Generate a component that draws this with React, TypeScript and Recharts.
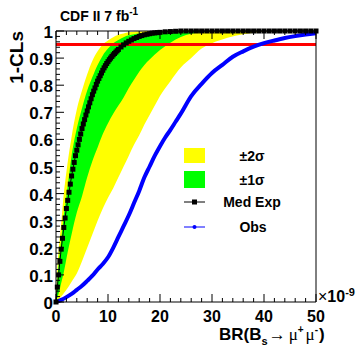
import React from "react";
import {
  ComposedChart,
  Area,
  Line,
  Scatter,
  XAxis,
  YAxis,
  ReferenceLine,
  Legend,
} from "recharts";

const FONT = '"Liberation Sans", Arial, Helvetica, sans-serif';
const SERIF = '"Liberation Serif", "Times New Roman", serif';

// expected bands (x in units of 1e-9)
const bandX = [0, 0.25, 0.5, 1, 1.5, 2, 3, 4, 5, 6, 7, 8, 9, 10, 11, 12, 13, 14, 15, 16, 17, 18, 19, 20, 22, 24, 26, 28, 30, 33, 36, 40, 45, 50];
const yellowHi = [0, 0.12, 0.19, 0.29, 0.4, 0.48, 0.61, 0.71, 0.78, 0.84, 0.89, 0.925, 0.95, 0.965, 0.977, 0.986, 0.991, 0.995, 0.997, 0.998, 0.999, 1, 1, 1, 1, 1, 1, 1, 1, 1, 1, 1, 1, 1];
const greenHi = [0, 0.08, 0.14, 0.23, 0.32, 0.39, 0.54, 0.64, 0.715, 0.78, 0.83, 0.875, 0.91, 0.935, 0.955, 0.967, 0.977, 0.984, 0.988, 0.991, 0.993, 0.995, 0.997, 0.998, 1, 1, 1, 1, 1, 1, 1, 1, 1, 1];
const greenLo = [0, 0.015, 0.03, 0.07, 0.11, 0.16, 0.25, 0.33, 0.39, 0.46, 0.52, 0.57, 0.62, 0.66, 0.695, 0.725, 0.755, 0.79, 0.82, 0.85, 0.875, 0.895, 0.913, 0.93, 0.957, 0.978, 0.99, 0.995, 0.998, 1, 1, 1, 1, 1];
const yellowLo = [0, 0.005, 0.01, 0.02, 0.032, 0.045, 0.075, 0.105, 0.15, 0.2, 0.25, 0.3, 0.345, 0.385, 0.42, 0.46, 0.5, 0.54, 0.58, 0.615, 0.655, 0.69, 0.725, 0.76, 0.815, 0.865, 0.9, 0.935, 0.955, 0.975, 0.988, 0.997, 1, 1];

// median expected (black squares)
const medX = [
  0, 0.25, 0.5, 0.75, 1, 1.25, 1.5, 1.75, 2, 2.25, 2.5, 2.75, 3, 3.25, 3.5, 3.75, 4, 4.25, 4.5, 4.75, 5,
  5.25, 5.5, 5.75, 6, 6.25, 6.5, 6.75, 7, 7.25, 7.5, 7.75, 8, 8.25, 8.5, 8.75, 9, 9.25, 9.5, 9.75, 10,
  10.25, 10.5, 10.75, 11, 11.25, 11.5, 11.75, 12, 12.5, 13, 13.5, 14, 14.5, 15, 15.5, 16, 16.5, 17, 17.5,
  18, 18.5, 19, 19.5, 20, 21, 22, 23, 24, 25, 26, 27, 28, 29, 30, 31, 32, 33, 34, 35, 36, 37, 38, 39, 40,
  41, 42, 43, 44, 45, 46, 47, 48, 49, 50,
];
const medY = [
  0, 0.055, 0.1, 0.15, 0.195, 0.235, 0.275, 0.31, 0.345, 0.375, 0.405, 0.435, 0.465, 0.49, 0.515, 0.54, 0.56, 0.58, 0.6, 0.62, 0.64,
  0.657, 0.673, 0.69, 0.705, 0.72, 0.735, 0.75, 0.765, 0.778, 0.79, 0.803, 0.815, 0.825, 0.835, 0.845, 0.855, 0.864, 0.872, 0.88, 0.887,
  0.894, 0.9, 0.906, 0.912, 0.917, 0.922, 0.927, 0.932, 0.941, 0.949, 0.956, 0.962, 0.967, 0.972, 0.976, 0.98, 0.983, 0.986, 0.988,
  0.99, 0.992, 0.993, 0.994, 0.995, 0.997, 0.998, 0.999, 1, 1, 1, 1, 1, 1, 1, 1, 1, 1, 1, 1, 1, 1, 1, 1, 1,
  1, 1, 1, 1, 1, 1, 1, 1, 1, 1,
];

// observed (blue)
const obsX = [0, 1, 2, 3, 4, 5, 6, 7, 8, 9, 10, 11, 12, 13, 14, 15, 16, 17, 18, 19, 20, 21, 22, 23, 24, 26, 28, 30, 32, 34, 36, 38, 40, 42, 44, 46, 48, 50];
const obsY = [0, 0.008, 0.018, 0.03, 0.045, 0.06, 0.078, 0.097, 0.12, 0.14, 0.165, 0.2, 0.24, 0.28, 0.32, 0.365, 0.41, 0.46, 0.5, 0.54, 0.575, 0.607, 0.635, 0.665, 0.695, 0.76, 0.805, 0.845, 0.875, 0.905, 0.925, 0.942, 0.955, 0.965, 0.974, 0.981, 0.987, 0.992];

const CL_LINE = 0.95;
const xLabels = [0, 10, 20, 30, 40, 50];
const yLabels = [0, 0.1, 0.2, 0.3, 0.4, 0.5, 0.6, 0.7, 0.8, 0.9, 1];

const bands = bandX.map((x, i) => ({
  x,
  yellow: [yellowLo[i], yellowHi[i]],
  green: [greenLo[i], greenHi[i]],
}));
const median = medX.map((x, i) => ({ x, y: medY[i] }));
const observed = obsX.map((x, i) => ({ x, y: obsY[i] }));

// minor ticks every 2 on x, every 0.02 on y
const xTicks = Array.from({ length: 26 }, (_, i) => i * 2);
const yTicks = Array.from({ length: 51 }, (_, i) => Math.round(i * 2) / 100);

const isMajorX = (v: number) => Math.round(v) % 10 === 0;
const isMajorY = (v: number) => Math.round(v * 100) % 10 === 0;

const BottomTick = ({ x, y, payload }: any) => {
  const v = Math.round(payload.value);
  const major = isMajorX(v);
  const label = xLabels.find((l) => l === v);
  return (
    <g>
      <line x1={x} y1={y} x2={x} y2={y - (major ? 8 : 4)} stroke="#000" />
      {major && label !== undefined && (
        <text x={x} y={y + 20} textAnchor="middle" fontFamily={FONT} fontWeight="bold" fontSize={16} fill="#000">
          {String(label)}
        </text>
      )}
    </g>
  );
};

const TopTick = ({ x, y, payload }: any) => (
  <line x1={x} y1={y} x2={x} y2={y + (isMajorX(payload.value) ? 8 : 4)} stroke="#000" />
);

const LeftTick = ({ x, y, payload }: any) => {
  const v = payload.value;
  const major = isMajorY(v);
  const label = yLabels.find((l) => Math.abs(l - v) < 1e-6);
  return (
    <g>
      <line x1={x} y1={y} x2={x + (major ? 8 : 4)} y2={y} stroke="#000" />
      {major && label !== undefined && (
        <text x={x - 3} y={y + 7} textAnchor="end" fontFamily={FONT} fontWeight="bold" fontSize={17} fill="#000">
          {label === 0 || label === 1 ? String(label) : label.toFixed(1)}
        </text>
      )}
    </g>
  );
};

const RightTick = ({ x, y, payload }: any) => (
  <line x1={x} y1={y} x2={x - (isMajorY(payload.value) ? 8 : 4)} y2={y} stroke="#000" />
);

const SquareDot = (p: any) => <rect x={p.cx - 2.5} y={p.cy - 2.5} width={5} height={5} fill="#000" />;

const LegendBox = () => (
  <svg width={110} height={95} style={{ display: "block" }}>
    <g fontFamily={FONT} fontWeight="bold" fontSize={14} fill="#000" textAnchor="middle">
      <rect x={0} y={2} width={21} height={15} fill="#ffff00" />
      <text x={68} y={15}>±2σ</text>
      <rect x={0} y={25} width={21} height={17} fill="#00ff00" />
      <text x={68} y={39}>±1σ</text>
      <line x1={0} x2={21} y1={56} y2={56} stroke="#000" />
      <rect x={8} y={53.5} width={5} height={5} fill="#000" />
      <text x={68} y={61}>Med Exp</text>
      <line x1={0} x2={21} y1={81} y2={81} stroke="#0000ff" />
      <circle cx={10.5} cy={81} r={2} fill="#0000ff" />
      <text x={69} y={86}>Obs</text>
    </g>
  </svg>
);

export default function App() {
  return (
    <div style={{ position: "absolute", left: 0, top: 0, width: 363, height: 346, background: "#fff" }}>
      <ComposedChart
        width={363}
        height={346}
        data={bands}
        margin={{ top: 30, right: 46, bottom: 43, left: 55 }}
      >
        <XAxis
          dataKey="x"
          type="number"
          domain={[0, 50]}
          ticks={xTicks}
          interval={0}
          height={1}
          tickSize={0}
          tickMargin={0}
          stroke="#000"
          tick={<BottomTick />}
        />
        <XAxis
          xAxisId="top"
          orientation="top"
          dataKey="x"
          type="number"
          domain={[0, 50]}
          ticks={xTicks}
          interval={0}
          height={1}
          tickSize={0}
          tickMargin={0}
          stroke="#000"
          tick={<TopTick />}
        />
        <YAxis
          type="number"
          domain={[0, 1]}
          ticks={yTicks}
          interval={0}
          width={1}
          tickSize={0}
          tickMargin={0}
          stroke="#000"
          tick={<LeftTick />}
        />
        <YAxis
          yAxisId="right"
          orientation="right"
          type="number"
          domain={[0, 1]}
          ticks={yTicks}
          interval={0}
          width={1}
          tickSize={0}
          tickMargin={0}
          stroke="#000"
          tick={<RightTick />}
        />
        <Area
          dataKey="yellow"
          type="monotone"
          fill="#ffff00"
          fillOpacity={1}
          stroke="none"
          isAnimationActive={false}
        />
        <Area
          dataKey="green"
          type="monotone"
          fill="#00ff00"
          fillOpacity={1}
          stroke="none"
          isAnimationActive={false}
        />
        <ReferenceLine y={CL_LINE} stroke="#ff0000" strokeWidth={3} />
        <Line
          data={observed}
          dataKey="y"
          type="monotone"
          stroke="#0000ff"
          strokeWidth={4}
          dot={false}
          isAnimationActive={false}
        />
        <Scatter
          data={median}
          dataKey="y"
          line={{ stroke: "#000", strokeWidth: 1 }}
          shape={SquareDot}
          isAnimationActive={false}
        />
        <Legend
          layout="vertical"
          align="center"
          verticalAlign="middle"
          content={() => <LegendBox />}
          wrapperStyle={{ left: 184, top: 146, width: 110, height: 95 }}
        />
      </ComposedChart>
      <svg
        width={363}
        height={346}
        style={{ position: "absolute", left: 0, top: 0, pointerEvents: "none" }}
      >
        <text x={60} y={21} fontFamily={FONT} fontWeight="bold" fontSize={14} fill="#000">
          CDF II 7 fb<tspan fontSize={10} dy={-6}>-1</tspan>
        </text>
        <text
          transform="translate(23,31) rotate(-90)"
          textAnchor="end"
          fontFamily={FONT}
          fontWeight="bold"
          fontSize={19}
          fill="#000"
        >
          1-CLs
        </text>
        <text x={318} y={302} fontFamily={FONT} fontSize={16} fill="#000">
          ×<tspan fontWeight="bold">10</tspan>
          <tspan fontWeight="bold" fontSize={11} dy={-6}>-9</tspan>
        </text>
        <text x={219} y={340} fontFamily={FONT} fontWeight="bold" fontSize={17} fill="#000">
          BR(B
          <tspan fontSize={11} dy={5}>s</tspan>
          <tspan dx={1} dy={-5} fontWeight="normal">→</tspan>
          <tspan dx={3} fontWeight="normal" fontFamily={SERIF}>μ</tspan>
          <tspan fontSize={10} dy={-7}>+</tspan>
          <tspan dx={2} dy={7} fontWeight="normal" fontFamily={SERIF}>μ</tspan>
          <tspan fontSize={10} dy={-7}>-</tspan>
          <tspan dx={1} dy={7}>)</tspan>
        </text>
      </svg>
    </div>
  );
}
